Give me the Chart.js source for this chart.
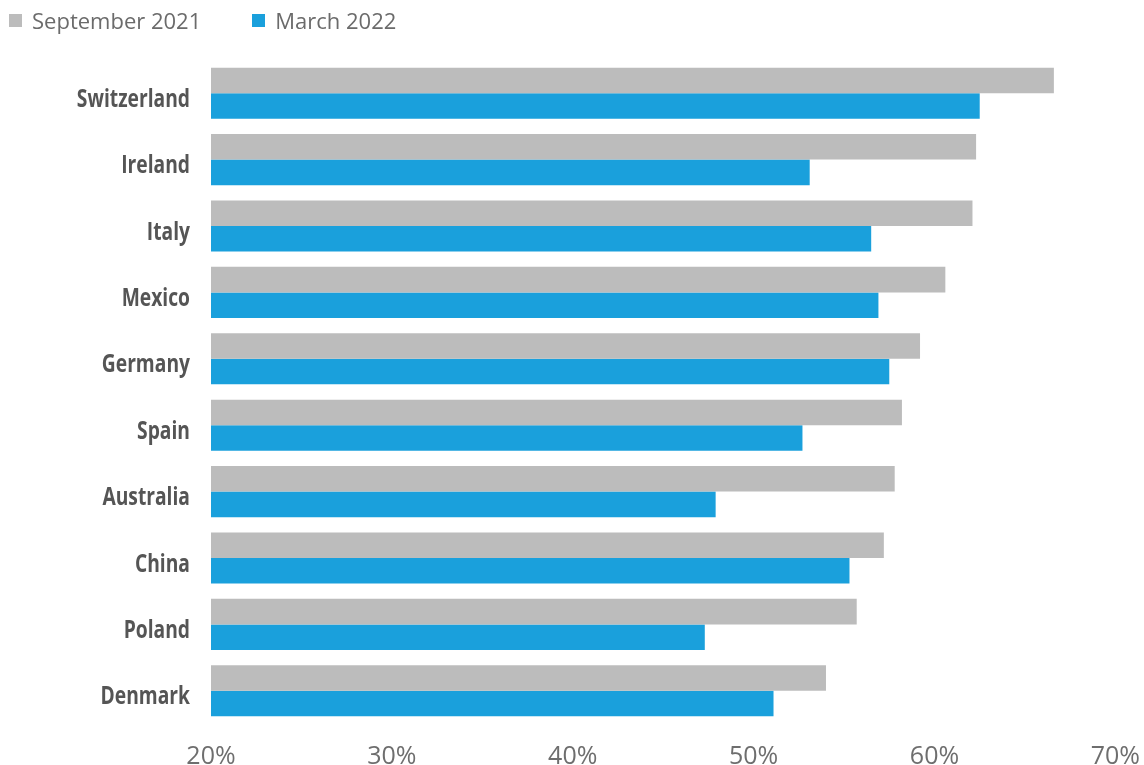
<!DOCTYPE html>
<html>
<head>
<meta charset="utf-8">
<script src="https://cdn.jsdelivr.net/npm/chart.js@4/dist/chart.umd.min.js"></script>
<style>
  html, body { margin: 0; padding: 0; background: #fff; }
  #wrap { position: relative; width: 1144px; height: 765px; }
  #legend { position: absolute; left: 9px; top: 5px; font-family: "Open Sans", sans-serif; font-size: 22px; color: #6b6b6b; display: flex; }
  #legend span.item { display: flex; align-items: center; margin-right: 51px; }
  #legend span.box { width: 13px; height: 13px; margin-right: 10px; display: inline-block; }
</style>
</head>
<body>
<div id="wrap">
  <div id="legend"></div>
  <canvas id="chart" width="1144" height="765"></canvas>
</div>
<script>
const countries = ['Switzerland', 'Ireland', 'Italy', 'Mexico', 'Germany', 'Spain', 'Australia', 'China', 'Poland', 'Denmark'];
const sept2021 = [66.6, 62.3, 62.1, 60.6, 59.2, 58.2, 57.8, 57.2, 55.7, 54.0];
const march2022 = [62.5, 53.1, 56.5, 56.9, 57.5, 52.7, 47.9, 55.3, 47.3, 51.1];
const seriesNames = ['September 2021', 'March 2022'];
const seriesColors = ['#bcbcbc', '#1aa0dc'];

const legendDiv = document.getElementById('legend');
seriesNames.forEach((name, i) => {
  const item = document.createElement('span');
  item.className = 'item';
  item.innerHTML = `<span class="box" style="background:${seriesColors[i]}"></span>${name}`;
  legendDiv.appendChild(item);
});

// category labels in a condensed bold face (no condensed font installed, so squeeze Open Sans Bold)
const condensedLabels = {
  id: 'condensedLabels',
  afterDraw(chart) {
    const { ctx } = chart;
    const yScale = chart.scales.y;
    ctx.save();
    ctx.font = 'bold 25px "Open Sans"';
    ctx.fillStyle = '#555555';
    ctx.textAlign = 'right';
    ctx.textBaseline = 'alphabetic';
    chart.data.labels.forEach((label, i) => {
      const y = yScale.getPixelForValue(i);
      ctx.save();
      ctx.translate(yScale.right - 21, y + 13.5);
      ctx.scale(0.77, 1);
      ctx.fillText(label, 0, 0);
      ctx.restore();
    });
    ctx.restore();
  }
};

const ctx = document.getElementById('chart').getContext('2d');
new Chart(ctx, {
  type: 'bar',
  data: {
    labels: countries,
    datasets: [
      { label: seriesNames[0], data: sept2021, backgroundColor: seriesColors[0] },
      { label: seriesNames[1], data: march2022, backgroundColor: seriesColors[1] }
    ]
  },
  options: {
    indexAxis: 'y',
    responsive: false,
    animation: false,
    categoryPercentage: 0.77,
    barPercentage: 1.0,
    layout: { padding: { top: 60, right: 0, left: 0, bottom: 0 } },
    plugins: {
      legend: { display: false },
      tooltip: { enabled: false }
    },
    scales: {
      x: {
        min: 20,
        max: 70,
        grid: { display: false },
        border: { display: false },
        afterFit: scale => {
          scale.height = 41;
          scale.paddingRight = Math.max(0, scale.paddingRight - 6);
        },
        ticks: {
          stepSize: 10,
          padding: 10,
          color: '#6e6e6e',
          font: { family: 'Open Sans', size: 25 },
          callback: v => v + '%'
        }
      },
      y: {
        grid: { display: false },
        border: { display: false },
        afterFit: scale => { scale.width = 211; },
        ticks: { display: false }
      }
    }
  },
  plugins: [condensedLabels]
});
</script>
</body>
</html>
